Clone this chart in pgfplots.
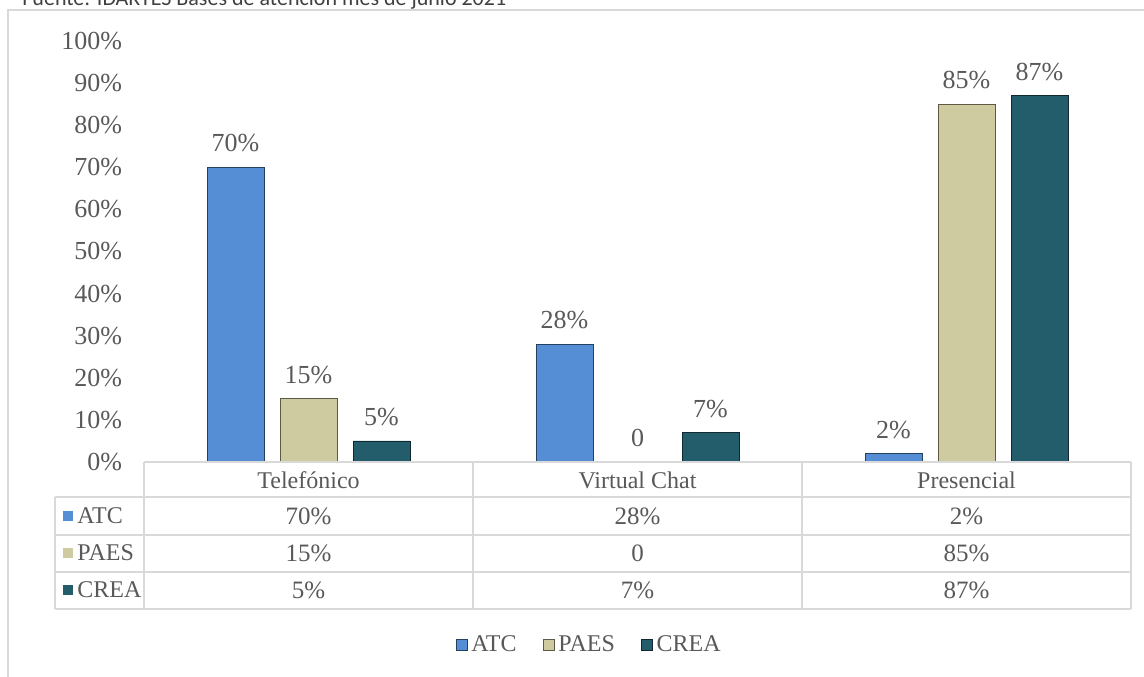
\documentclass[border=0pt]{standalone}
\usepackage{fontspec}
\setmainfont{Liberation Serif}
\newfontfamily\titlefont{Carlito}
\usepackage{pgfplots}
\pgfplotsset{compat=1.18}
\definecolor{atc}{RGB}{85,142,213}
\definecolor{paes}{RGB}{207,203,160}
\definecolor{crea}{RGB}{35,92,107}
\definecolor{tgray}{RGB}{89,89,89}
\definecolor{lgray}{RGB}{217,217,217}
\begin{document}
\begin{tikzpicture}
\begin{scope}[x=0.5pt,y=-0.5pt]
\useasboundingbox (0,0) rectangle (1144,676);
\begin{scope}
\clip (0,0) rectangle (1144,676);
\draw[lgray, line width=1pt] (8,10) rectangle (1170,700);
\node[anchor=base west, inner sep=0pt, font=\titlefont\fontsize{11}{13}\selectfont, text=black!75] at (22,5) {Fuente: IDARTES Bases de atención mes de junio 2021};
\end{scope}
\end{scope}
\begin{axis}[
  at={(72pt,-231pt)}, anchor=south west,
  scale only axis, width=493.5pt, height=210.5pt,
  xmin=-0.5, xmax=2.5, ymin=0, ymax=100,
  axis line style={draw=none}, tick style={draw=none},
  xtick=\empty, ytick={0,10,...,100},
  /pgf/number format/assume math mode=true,
  yticklabel={\pgfmathprintnumber{\tick}\%},
  yticklabel style={font=\fontsize{13}{15}\selectfont, text=tgray, xshift=-7.5pt},
  ybar, bar width=28.5pt,
  nodes near coords, point meta=explicit symbolic,
  nodes near coords style={font=\fontsize{13}{15}\selectfont, text=tgray, yshift=4pt},
  legend style={at={(0.452,-0.435)}, anchor=center, draw=none, legend columns=3,
    font=\fontsize{12}{14}\selectfont, text=tgray,
    /tikz/every even column/.append style={column sep=11pt}},
  legend image code/.code={\fill[#1] (0pt,-2.75pt) rectangle (5.5pt,2.75pt);},
  clip=false,
]
\addplot[fill=atc, draw=atc!45!black, bar shift=-36.5pt] coordinates {(0,70)[70\%] (1,28)[28\%] (2,2)[2\%]};
\addplot[fill=paes, draw=paes!45!black, bar shift=0pt] coordinates {(0,15)[15\%] (1,0)[0] (2,85)[85\%]};
\addplot[fill=crea, draw=crea!45!black, bar shift=36.5pt] coordinates {(0,5)[5\%] (1,7)[7\%] (2,87)[87\%]};
\legend{ATC, PAES, CREA}
\end{axis}
\begin{scope}[x=0.5pt,y=-0.5pt]
\draw[lgray, line width=1pt] (144,462) -- (1131,462);
\foreach \yy in {497,535,572,609} {\draw[lgray, line width=1pt] (55,\yy) -- (1131,\yy);}
\foreach \xx in {144,473,802,1131} {\draw[lgray, line width=1pt] (\xx,462) -- (\xx,609);}
\draw[lgray, line width=1pt] (55,497) -- (55,609);
\begin{scope}[every node/.style={font=\fontsize{12}{14}\selectfont, text=tgray, inner sep=0pt}]
\node at (308.5,480) {Telefónico};
\node at (637.5,480) {Virtual Chat};
\node at (966.5,480) {Presencial};
\begin{scope}[every node/.append style={font=\fontsize{12.5}{14}\selectfont}]
\node at (308.5,516) {70\%}; \node at (637.5,516) {28\%}; \node at (966.5,516) {2\%};
\node at (308.5,553) {15\%}; \node at (637.5,553) {0}; \node at (966.5,553) {85\%};
\node at (308.5,590) {5\%}; \node at (637.5,590) {7\%}; \node at (966.5,590) {87\%};
\end{scope}
\fill[atc] (63,511) rectangle (73,521); \node[anchor=west] at (77,516) {ATC};
\fill[paes] (63,548) rectangle (73,558); \node[anchor=west] at (77,553) {PAES};
\fill[crea] (63,585) rectangle (73,595); \node[anchor=west] at (77,590) {CREA};
\end{scope}
\end{scope}
\end{tikzpicture}
\end{document}
